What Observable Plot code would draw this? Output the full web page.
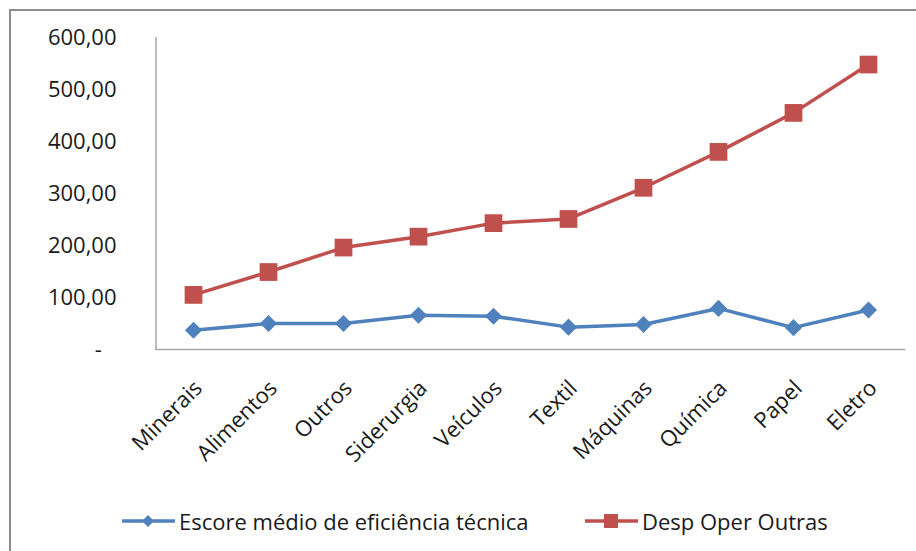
<!DOCTYPE html>
<html>
<head>
<meta charset="utf-8">
<script src="https://cdn.jsdelivr.net/npm/d3@7"></script>
<script src="https://cdn.jsdelivr.net/npm/@observablehq/plot@0.6"></script>
<style>
  html, body { margin: 0; padding: 0; background: #fff; }
  #chart { position: relative; width: 916px; height: 551px; overflow: hidden; font-family: "Open Sans", sans-serif; }
  #chart svg { display: block; }
  #border { position: absolute; left: 9px; top: 9px; width: 1000px; height: 1000px;
            border-left: 2px solid #8c8c8c; border-top: 2px solid #8c8c8c; pointer-events: none; }
  #legend { position: relative; height: 61px; color: #1a1a1a; font-size: 22px; }
  .item { position: absolute; top: 0; height: 61px; display: flex; align-items: center; }
  .item svg { margin-right: 3px; }
</style>
</head>
<body>
<div id="chart"></div>
<script>
// Sectors on the horizontal axis
const categories = ["Minerais", "Alimentos", "Outros", "Siderurgia", "Veículos", "Textil", "Máquinas", "Química", "Papel", "Eletro"];
// Average technical efficiency score per sector
const escore = [37, 50, 50, 66, 64, 43, 48, 79, 42, 76];
// Other operating expenses per sector
const despOper = [105, 149, 196, 217, 243, 251, 311, 380, 455, 548];
// Value-axis ticks
const yTicks = [0, 100, 200, 300, 400, 500, 600];

const seriesNames = ["Escore médio de eficiência técnica", "Desp Oper Outras"];
const blue = "#4f81bd";
const red = "#c0504d";

const escoreData = categories.map((c, i) => ({cat: c, v: escore[i]}));
const despData = categories.map((c, i) => ({cat: c, v: despOper[i]}));

// Accounting-style labels: decimal comma, zero shown as a dash
const fmt = d => d === 0 ? "-\u2007\u200A" : d.toFixed(2).replace(".", ",");

const plot = Plot.plot({
  width: 916,
  height: 490,
  marginLeft: 155,
  marginRight: 11,
  marginTop: 37,
  marginBottom: 141,
  style: {fontFamily: "'Open Sans', sans-serif", fontSize: "22px", color: "#1a1a1a", background: "transparent", overflow: "visible"},
  x: {type: "point", domain: categories, padding: 0.5, label: null},
  y: {domain: [0, 600], label: null},
  marks: [
    Plot.axisY({ticks: yTicks, tickFormat: fmt, tickSize: 0, tickPadding: 39, label: null}),
    Plot.axisX({tickRotate: -45, tickSize: 0, tickPadding: 35, dx: 5, label: null}),
    Plot.ruleY([0], {stroke: "#a6a6a6", strokeWidth: 1.5}),
    Plot.ruleX([categories[0]], {dx: -37.5, stroke: "#a6a6a6", strokeWidth: 1.5}),
    Plot.line(escoreData, {x: "cat", y: "v", stroke: blue, strokeWidth: 3.5}),
    Plot.dot(escoreData, {x: "cat", y: "v", symbol: "diamond2", r: 7.7, fill: blue, stroke: null}),
    Plot.line(despData, {x: "cat", y: "v", stroke: red, strokeWidth: 3.5}),
    Plot.dot(despData, {x: "cat", y: "v", symbol: "square", r: 10, fill: red, stroke: null})
  ]
});

const chart = document.getElementById("chart");
chart.appendChild(plot);

// Legend below the plot
const legend = document.createElement("div");
legend.id = "legend";
const swatch = (color, shape) => {
  const s = shape === "diamond"
    ? `<path d="M26,15 L32,21 L26,27 L20,21 Z" fill="${color}"/>`
    : `<rect x="19" y="14" width="14" height="14" fill="${color}"/>`;
  return `<svg width="54" height="42" viewBox="0 0 54 42"><line x1="0" y1="21" x2="53" y2="21" stroke="${color}" stroke-width="3.5"/>${s}</svg>`;
};
const items = [
  {left: 122, color: blue, shape: "diamond", name: seriesNames[0]},
  {left: 585, color: red, shape: "square", name: seriesNames[1]}
];
for (const it of items) {
  const div = document.createElement("div");
  div.className = "item";
  div.style.left = it.left + "px";
  div.innerHTML = swatch(it.color, it.shape) + `<span>${it.name}</span>`;
  legend.appendChild(div);
}
chart.appendChild(legend);

const border = document.createElement("div");
border.id = "border";
chart.appendChild(border);
</script>
</body>
</html>
